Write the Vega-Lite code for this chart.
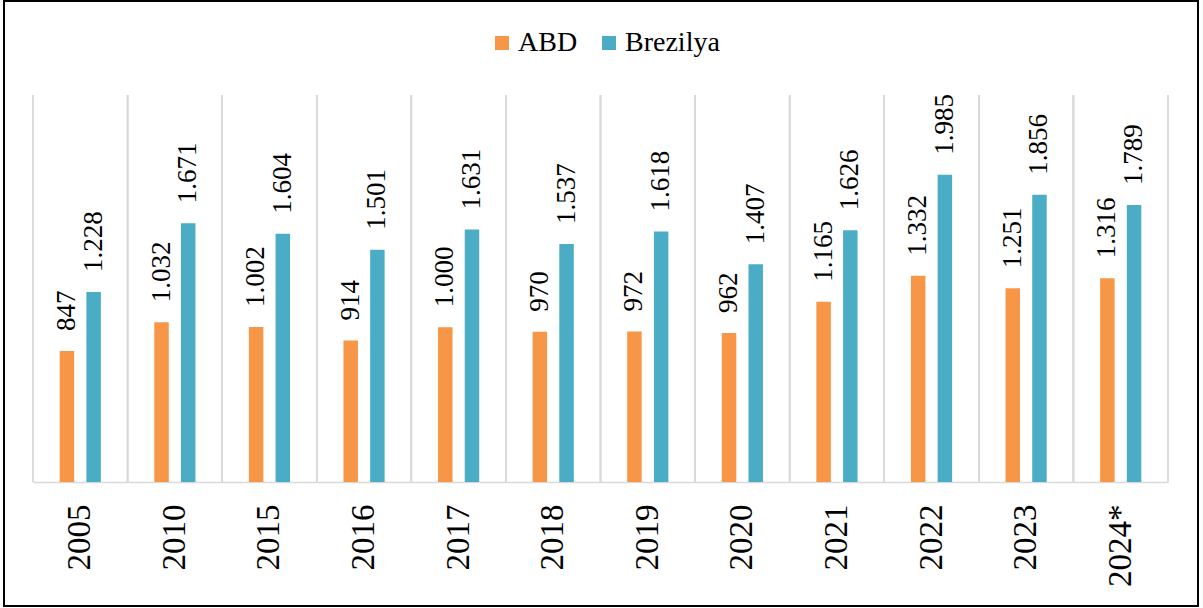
{
  "$schema": "https://vega.github.io/schema/vega-lite/v6.json",
  "width": 1194,
  "height": 605,
  "autosize": {"type": "none"},
  "padding": {"left": 4, "top": 1, "right": 5, "bottom": 2},
  "background": "white",
  "config": {
    "view": {"stroke": "#000000", "strokeWidth": 2},
    "font": "Liberation Serif",
    "axis": {"labelFont": "Liberation Serif"},
    "legend": {"labelFont": "Liberation Serif"},
    "locale": {"number": {"decimal": ",", "thousands": ".", "grouping": [3], "currency": ["", ""]}}
  },
  "data": {
    "values": [
      {"year": "2005", "series": "ABD", "value": 847},
      {"year": "2005", "series": "Brezilya", "value": 1228},
      {"year": "2010", "series": "ABD", "value": 1032},
      {"year": "2010", "series": "Brezilya", "value": 1671},
      {"year": "2015", "series": "ABD", "value": 1002},
      {"year": "2015", "series": "Brezilya", "value": 1604},
      {"year": "2016", "series": "ABD", "value": 914},
      {"year": "2016", "series": "Brezilya", "value": 1501},
      {"year": "2017", "series": "ABD", "value": 1000},
      {"year": "2017", "series": "Brezilya", "value": 1631},
      {"year": "2018", "series": "ABD", "value": 970},
      {"year": "2018", "series": "Brezilya", "value": 1537},
      {"year": "2019", "series": "ABD", "value": 972},
      {"year": "2019", "series": "Brezilya", "value": 1618},
      {"year": "2020", "series": "ABD", "value": 962},
      {"year": "2020", "series": "Brezilya", "value": 1407},
      {"year": "2021", "series": "ABD", "value": 1165},
      {"year": "2021", "series": "Brezilya", "value": 1626},
      {"year": "2022", "series": "ABD", "value": 1332},
      {"year": "2022", "series": "Brezilya", "value": 1985},
      {"year": "2023", "series": "ABD", "value": 1251},
      {"year": "2023", "series": "Brezilya", "value": 1856},
      {"year": "2024*", "series": "ABD", "value": 1316},
      {"year": "2024*", "series": "Brezilya", "value": 1789}
    ]
  },
  "layer": [
    {
      "mark": {"type": "rule", "color": "#d9d9d9", "strokeWidth": 1.5},
      "encoding": {
        "x": {
          "field": "year",
          "type": "nominal",
          "sort": null,
          "bandPosition": 0,
          "scale": {"range": [29, 1164], "paddingInner": 0, "paddingOuter": 0},
          "axis": {
            "title": null,
            "orient": "bottom",
            "offset": -124,
            "ticks": false,
            "grid": false,
            "domainColor": "#d9d9d9",
            "domainWidth": 1.5,
            "labelAngle": -90,
            "labelAlign": "right",
            "labelBaseline": "middle",
            "labelPadding": 22,
            "labelFont": "Liberation Serif",
            "labelFontSize": 33,
            "labelColor": "#000000"
          }
        },
        "y": {"datum": 0, "type": "quantitative", "scale": {"domain": [0, 2500], "range": [481, 94], "nice": false}, "axis": null},
        "y2": {"datum": 2500}
      }
    },
    {
      "mark": {"type": "rule", "color": "#d9d9d9", "strokeWidth": 1.5},
      "encoding": {
        "x": {"field": "year", "type": "nominal", "sort": null, "bandPosition": 1},
        "y": {"datum": 0, "type": "quantitative"},
        "y2": {"datum": 2500}
      }
    },
    {
      "mark": {"type": "bar"},
      "encoding": {
        "x": {"field": "year", "type": "nominal", "sort": null},
        "xOffset": {"field": "series", "type": "nominal", "scale": {"paddingInner": 0.458, "paddingOuter": 1.2}},
        "y": {"field": "value", "type": "quantitative"},
        "color": {
          "field": "series",
          "type": "nominal",
          "scale": {"domain": ["ABD", "Brezilya"], "range": ["#F79646", "#4BACC6"]},
          "legend": {
            "title": null,
            "orient": "none",
            "legendX": 484,
            "legendY": 28,
            "direction": "horizontal",
            "padding": 0,
            "symbolType": "square",
            "symbolSize": 196,
            "symbolStrokeWidth": 0,
            "labelFont": "Liberation Serif",
            "labelFontSize": 28,
            "labelColor": "#000000",
            "labelOffset": 2,
            "columnPadding": 17
          }
        }
      }
    },
    {
      "mark": {
        "type": "text",
        "angle": 270,
        "align": "left",
        "baseline": "middle",
        "dx": 20,
        "font": "Liberation Serif",
        "fontSize": 27,
        "color": "#000000"
      },
      "encoding": {
        "x": {"field": "year", "type": "nominal", "sort": null},
        "xOffset": {"field": "series", "type": "nominal"},
        "y": {"field": "value", "type": "quantitative"},
        "text": {"field": "value", "type": "quantitative", "format": ",d"}
      }
    }
  ]
}
